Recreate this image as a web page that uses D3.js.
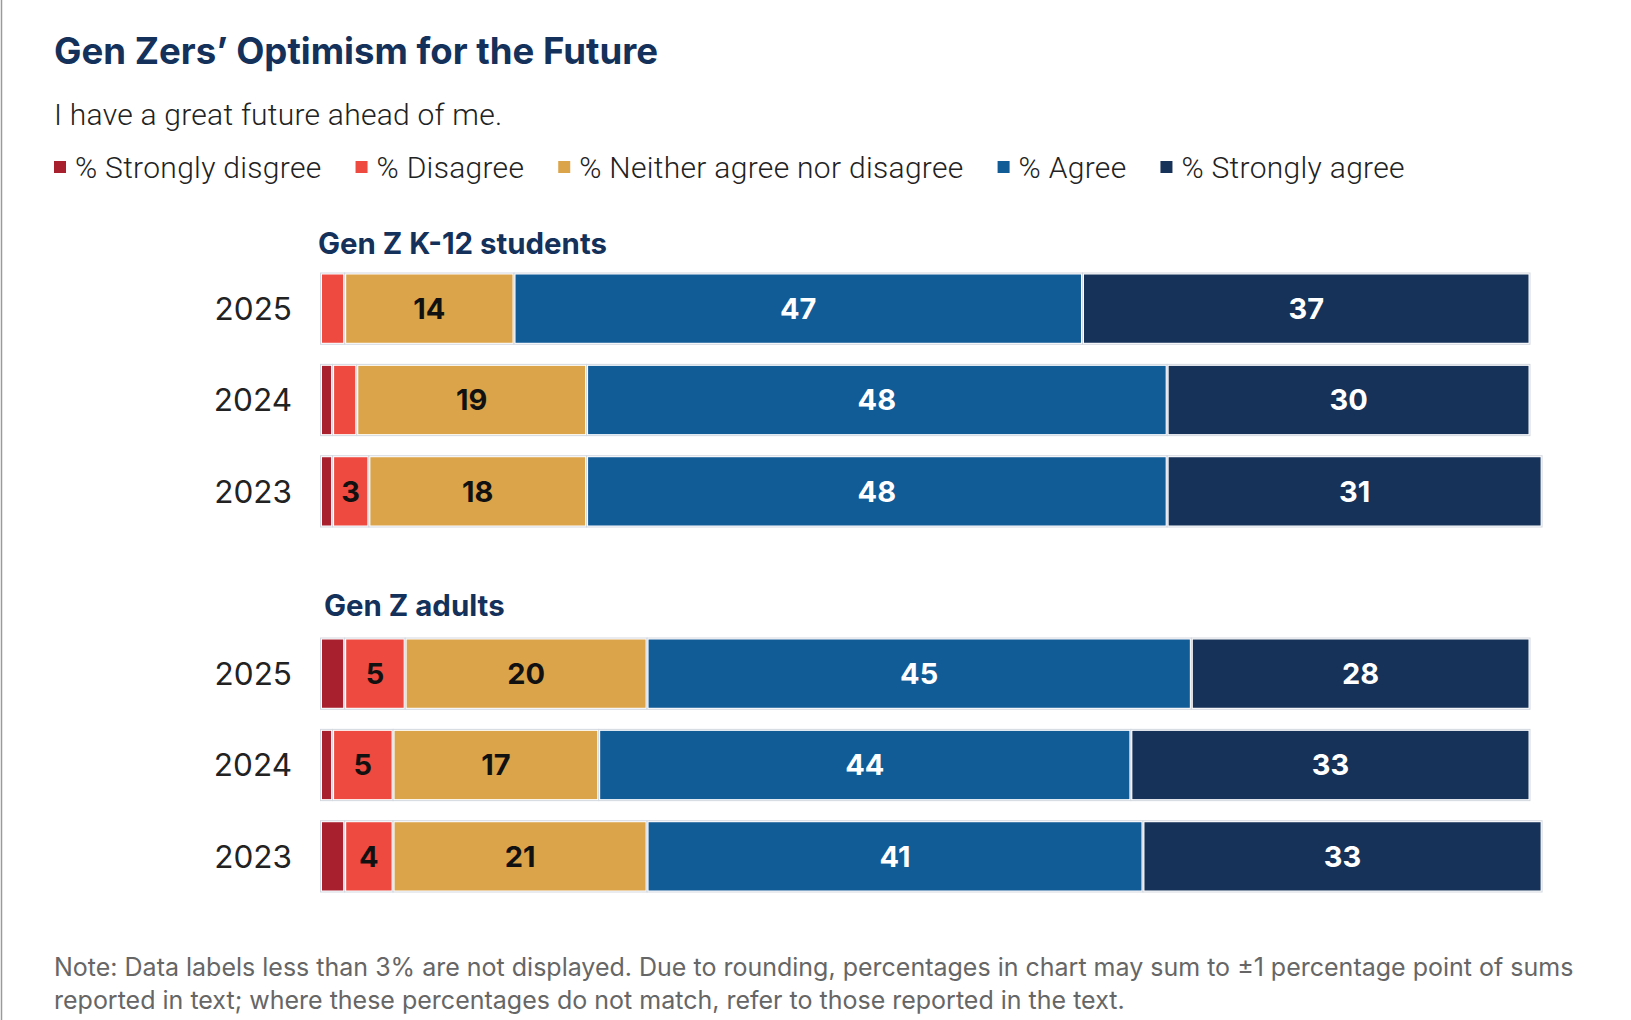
<!DOCTYPE html>
<html>
<head>
<meta charset="utf-8">
<script src="https://cdn.jsdelivr.net/npm/d3@7"></script>
<style>
  body { margin: 0; background: #fff; }
  svg { display: block; }
</style>
</head>
<body>
<svg id="chart"></svg>
<script>
// values
const categories = ["% Strongly disgree", "% Disagree", "% Neither agree nor disagree", "% Agree", "% Strongly agree"];
const groupNames = ["Gen Z K-12 students", "Gen Z adults"];
const years = ["2025", "2024", "2023"];

const k12StronglyDisagree = [0, 1, 1];
const k12Disagree = [2, 2, 3];
const k12Neither = [14, 19, 18];
const k12Agree = [47, 48, 48];
const k12StronglyAgree = [37, 30, 31];

const adultStronglyDisagree = [2, 1, 2];
const adultDisagree = [5, 5, 4];
const adultNeither = [20, 17, 21];
const adultAgree = [45, 44, 41];
const adultStronglyAgree = [28, 33, 33];

const colors = ["#a81f2e", "#ee4a40", "#dba44a", "#115b97", "#163259"];
const labelColors = ["#111", "#111", "#111", "#fff", "#fff"];

function main() {
    let width = 1631;
    let height = 1020;
    let svg = d3.select("#chart")
        .attr("width", width)
        .attr("height", height);

    svg.append("rect")
        .attr("width", width)
        .attr("height", height)
        .attr("fill", "#fff");

    // thin frame line on the left edge
    svg.append("line")
        .attr("x1", 1.5).attr("x2", 1.5)
        .attr("y1", 0).attr("y2", height)
        .attr("stroke", "#9a9a9a")
        .attr("stroke-width", 1.5);

    // title + subtitle
    svg.append("text")
        .text("Gen Zers\u2019 Optimism for the Future")
        .attr("x", 54)
        .attr("y", 64)
        .attr("font-family", "Inter, sans-serif")
        .attr("font-weight", 700)
        .attr("font-size", 36.6)
        .attr("fill", "#13315a");

    svg.append("text")
        .text("I have a great future ahead of me.")
        .attr("x", 54)
        .attr("y", 125)
        .attr("font-family", "Roboto, sans-serif")
        .attr("font-weight", 300)
        .attr("font-size", 30)
        .attr("letter-spacing", 0.25)
        .attr("fill", "#222");

    drawLegend(svg);

    let x = d3.scaleLinear()
        .domain([0, 100])
        .range([320.5, 1530]);

    let groups = [
        {
            name: groupNames[0],
            values: [k12StronglyDisagree, k12Disagree, k12Neither, k12Agree, k12StronglyAgree],
            range: [273, 527],
            titleX: 318,
            titleY: 254
        },
        {
            name: groupNames[1],
            values: [adultStronglyDisagree, adultDisagree, adultNeither, adultAgree, adultStronglyAgree],
            range: [638, 892],
            titleX: 324,
            titleY: 616
        }
    ];

    groups.forEach(g => drawGroup(svg, g, x));

    // footnote
    let note = svg.append("text")
        .attr("font-family", "Inter, sans-serif")
        .attr("font-size", 25)
        .attr("fill", "#666");
    note.append("tspan")
        .attr("x", 54).attr("y", 976)
        .text("Note: Data labels less than 3% are not displayed. Due to rounding, percentages in chart may sum to \u00b11 percentage point of sums");
    note.append("tspan")
        .attr("x", 54).attr("y", 1009)
        .text("reported in text; where these percentages do not match, refer to those reported in the text.");
}

function drawLegend(svg) {
    let legend = svg.append("g")
        .attr("transform", "translate(54, 178)");
    let cursor = 0;
    categories.forEach((c, i) => {
        let item = legend.append("g")
            .attr("transform", `translate(${cursor}, 0)`);
        item.append("rect")
            .attr("x", 0)
            .attr("y", -17)
            .attr("width", 12)
            .attr("height", 12)
            .attr("fill", colors[i]);
        let t = item.append("text")
            .text(c)
            .attr("x", 21)
            .attr("y", 0)
            .attr("font-family", "Roboto, sans-serif")
            .attr("font-weight", 300)
            .attr("font-size", 30)
            .attr("letter-spacing", 0.3)
            .attr("fill", "#222");
        cursor += 21 + t.node().getComputedTextLength() + 34;
    });
}

function drawGroup(svg, g, x) {
    // one row object per year, keyed by category
    let rows = years.map((yr, i) => {
        let row = { year: yr };
        categories.forEach((c, j) => { row[c] = g.values[j][i]; });
        return row;
    });

    let stack = d3.stack().keys(categories);
    let series = stack(rows);

    let y = d3.scaleBand()
        .domain(years)
        .range(g.range)
        .paddingInner(0.22)
        .paddingOuter(0);

    svg.append("text")
        .text(g.name)
        .attr("x", g.titleX)
        .attr("y", g.titleY)
        .attr("font-family", "Inter, sans-serif")
        .attr("font-weight", 700)
        .attr("font-size", 29.4)
        .attr("fill", "#13315a");

    // year labels
    svg.append("g")
        .selectAll("text")
        .data(years)
        .join("text")
        .text(d => d)
        .attr("x", 292)
        .attr("y", d => y(d) + y.bandwidth() / 2)
        .attr("dy", "0.36em")
        .attr("text-anchor", "end")
        .attr("font-family", "Inter, sans-serif")
        .attr("font-size", 31.5)
        .attr("fill", "#222");

    let layers = svg.append("g")
        .selectAll("g")
        .data(series)
        .join("g");

    let segs = layers.selectAll("g")
        .data(s => s.map(d => ({ key: s.key, idx: s.index, d: d })).filter(p => p.d[1] - p.d[0] > 0))
        .join("g");

    // light outline then coloured fill inset, gives the thin white gaps
    segs.append("rect")
        .attr("x", p => x(p.d[0]))
        .attr("y", p => y(p.d.data.year))
        .attr("width", p => x(p.d[1]) - x(p.d[0]))
        .attr("height", y.bandwidth())
        .attr("fill", "#fff")
        .attr("stroke", "#d3d8e0")
        .attr("stroke-width", 1);

    segs.append("rect")
        .attr("x", p => x(p.d[0]) + 1.5)
        .attr("y", p => y(p.d.data.year) + 1.5)
        .attr("width", p => Math.max(0, x(p.d[1]) - x(p.d[0]) - 3))
        .attr("height", y.bandwidth() - 3)
        .attr("fill", p => colors[p.idx]);

    segs.filter(p => p.d[1] - p.d[0] >= 3)
        .append("text")
        .text(p => p.d[1] - p.d[0])
        .attr("x", p => (x(p.d[0]) + x(p.d[1])) / 2)
        .attr("y", p => y(p.d.data.year) + y.bandwidth() / 2)
        .attr("dy", "0.36em")
        .attr("text-anchor", "middle")
        .attr("font-family", "Inter, sans-serif")
        .attr("font-weight", 700)
        .attr("font-size", 29)
        .attr("fill", p => labelColors[p.idx]);
}

main();
</script>
</body>
</html>
